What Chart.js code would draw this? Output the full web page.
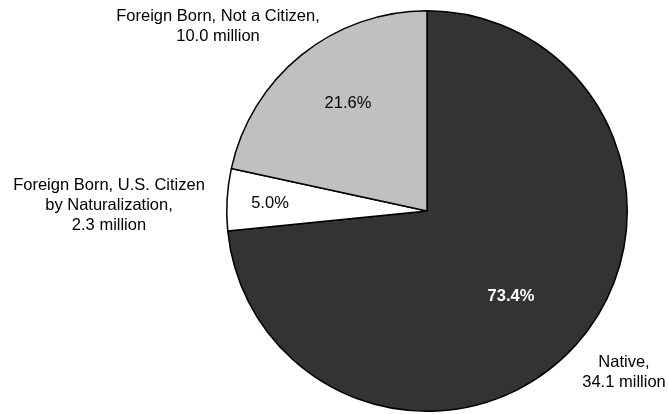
<!DOCTYPE html>
<html>
<head>
<meta charset="utf-8">
<script src="https://cdn.jsdelivr.net/npm/chart.js@4/dist/chart.umd.min.js"></script>
<style>
  html, body { margin: 0; padding: 0; background: #fff; }
  #wrap { width: 668px; height: 414px; }
</style>
</head>
<body>
<div id="wrap"><canvas id="pie" width="668" height="414"></canvas></div>
<script>
// Nativity / citizenship shares
const groups = ['Native', 'Foreign Born, U.S. Citizen by Naturalization', 'Foreign Born, Not a Citizen'];
const shares = [73.4, 5.0, 21.6];
const millions = ['34.1', '2.3', '10.0'];
const outerText = [
    ['Native,', millions[0] + ' million'],
    ['Foreign Born, U.S. Citizen', 'by Naturalization,', millions[1] + ' million'],
    ['Foreign Born, Not a Citizen,', millions[2] + ' million']
];
const sliceColors = ['#333333', '#ffffff', '#c0c0c0'];

// where the text goes, as offsets from the pie centre
const inside = [[84, 85], [-157, -8], [-79, -108]];
const outside = [[197, 161], [-318, -6], [-209, -185]];

const labelPlugin = {
    id: 'sliceLabels',
    afterDraw(chart) {
        const ctx = chart.ctx;
        const arc = chart.getDatasetMeta(0).data[0];
        const cx = arc.x, cy = arc.y;
        const font = '16.5px "Liberation Sans", Arial, sans-serif';
        ctx.save();
        ctx.textAlign = 'center';
        ctx.textBaseline = 'middle';
        shares.forEach((v, i) => {
            ctx.font = (i === 0 ? 'bold ' : '') + font;
            ctx.fillStyle = i === 0 ? '#fff' : '#000';
            ctx.fillText(v.toFixed(1) + '%', cx + inside[i][0], cy + inside[i][1]);

            ctx.font = font;
            ctx.fillStyle = '#000';
            const lines = outerText[i];
            const lh = 20;
            const y0 = cy + outside[i][1] - (lines.length - 1) * lh / 2;
            lines.forEach((t, k) => ctx.fillText(t, cx + outside[i][0], y0 + k * lh));
        });
        ctx.restore();
    }
};

const ctx = document.getElementById('pie').getContext('2d');
const myChart = new Chart(ctx, {
    type: 'pie',
    data: {
        labels: groups,
        datasets: [{
            data: shares,
            backgroundColor: sliceColors,
            borderColor: '#000',
            borderWidth: 1.5
        }]
    },
    options: {
        responsive: false,
        animation: false,
        layout: {
            padding: { left: 226, right: 40, top: 9, bottom: 1 }
        },
        plugins: {
            legend: { display: false },
            tooltip: { enabled: false }
        }
    },
    plugins: [labelPlugin]
});
</script>
</body>
</html>
